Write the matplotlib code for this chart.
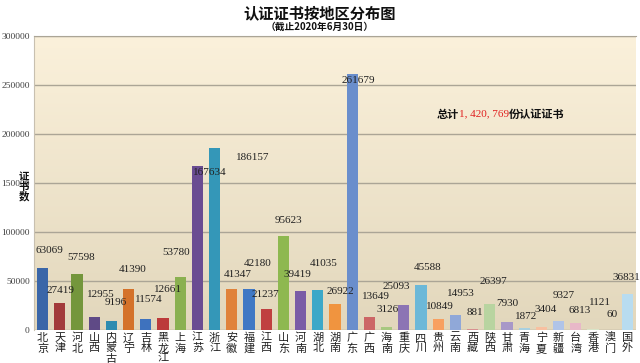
import numpy as np
import matplotlib
matplotlib.use("Agg")
import matplotlib.pyplot as plt
from matplotlib.offsetbox import TextArea, HPacker, AnnotationBbox

plt.rcParams['font.family'] = ['Noto Sans CJK SC', 'DejaVu Sans']

# data
regions = ["北京", "天津", "河北", "山西", "内蒙古", "辽宁", "吉林", "黑龙江", "上海", "江苏",
           "浙江", "安徽", "福建", "江西", "山东", "河南", "湖北", "湖南", "广东", "广西",
           "海南", "重庆", "四川", "贵州", "云南", "西藏", "陕西", "甘肃", "青海", "宁夏",
           "新疆", "台湾", "香港", "澳门", "国外"]
counts = [63069, 27419, 57598, 12955, 9196, 41390, 11574, 12661, 53780, 167634,
          186157, 41347, 42180, 21237, 95623, 39419, 41035, 26922, 261679, 13649,
          3126, 25093, 45588, 10849, 14953, 881, 26397, 7930, 1872, 3404,
          9327, 6813, 1121, 60, 36831]
yticks = [0, 50000, 100000, 150000, 200000, 250000, 300000]

bar_colors = ["#3A66A8", "#A23A3A", "#74963C", "#5F4A86", "#2E8CB0", "#D4722A",
              "#3E72BE", "#BC3A3A", "#8AB050", "#6A4C92", "#3497B8", "#E0823A",
              "#4078C4", "#C04040", "#8EB850", "#7A5CA6", "#3CA8C8", "#F0943F",
              "#6A8ECC", "#CC6666", "#A8C880", "#8C74B4", "#6CB8D8", "#F8A060",
              "#90A8D8", "#D89090", "#B8D4A0", "#A898C8", "#A8D0E0", "#F8C0A0",
              "#B0C4E8", "#E8B8C8", "#D8E4C8", "#D0C8E0", "#B8DCF0"]

# value label nudges (pixels) relative to the bar top, as placed in the original
label_dx = [7, 1, 4, 7, 4, 4, 3, 5, -4, 12, 38, 6, 9, -1, 5, -3, 6, 5, 6, 7,
            1, -7, 7, 2, 5, 2, 4, 0, 2, 4, 5, 4, 7, 2, -1]
label_dy = [18, 13, 16, 23, 18, 20, 19, 28, 25, -7, -10, 15, 25, 15, 16, 17, 26, 12, -7, 20,
            17, 19, 18, 13, 22, 17, 23, 19, 12, 17, 25, 13, 26, 15, 16]

fig = plt.figure(figsize=(6.4, 3.63), dpi=100)
fig.patch.set_facecolor("white")
ax = fig.add_axes([34 / 640, 1 - 330 / 363, 602 / 640, 294 / 363])

# beige gradient background of the plot area
top = np.array([251, 241, 219]) / 255
bot = np.array([226, 215, 188]) / 255
t = np.linspace(0, 1, 256)[:, None]
grad = (top * (1 - t) + bot * t)[:, None, :]
ax.imshow(grad, extent=[0, 1, 0, 1], transform=ax.transAxes, aspect="auto", zorder=0)

x = np.arange(len(regions))
ax.bar(x, counts, width=0.64, color=bar_colors, zorder=3)

for i, v in enumerate(counts):
    ax.annotate(str(v), (x[i], v), xytext=(label_dx[i], label_dy[i]),
                textcoords="offset pixels", ha="center", va="center",
                fontsize=8, family="Liberation Serif", color="#202020", zorder=4)

ax.set_xlim(-0.5, len(regions) - 0.5)
ax.set_ylim(0, 300000)
ax.set_yticks(yticks)
ax.set_yticklabels([str(v) for v in yticks], family="Liberation Serif", fontsize=6.8, color="#404040")
ax.set_xticks(x)
ax.set_xticklabels(["\n".join(r) for r in regions], fontsize=8, color="#202020",
                   va="top", linespacing=1.05)
ax.tick_params(axis="both", length=0, pad=3)
ax.tick_params(axis="x", pad=2)

ax.grid(axis="y", color="#ABA596", linewidth=1, zorder=1)
ax.set_axisbelow(True)
for side in ["right", "bottom"]:
    ax.spines[side].set_visible(False)
ax.spines["top"].set_color("#ABA596")
ax.spines["left"].set_color("#C8C0B0")

fig.text(0.5, 1 - 13 / 363, "认证证书按地区分布图", ha="center", va="center",
         fontsize=11, fontweight="bold", color="#101010")
fig.text(0.5, 1 - 27 / 363, "（截止2020年6月30日）", ha="center", va="center",
         fontsize=7, fontweight="bold", color="#101010")
fig.text(23.5 / 640, 1 - 187 / 363, "证\n书\n数", ha="center", va="center",
         fontsize=7.5, fontweight="bold", linespacing=0.95, color="#101010")

parts = [TextArea("总计", textprops=dict(fontsize=8, fontweight="bold", color="#101010")),
         TextArea("1, 420, 769", textprops=dict(fontsize=8, family="Liberation Serif", color="#E02020")),
         TextArea("份认证证书", textprops=dict(fontsize=8, fontweight="bold", color="#101010"))]
box = HPacker(children=parts, align="center", pad=0, sep=0)
ab = AnnotationBbox(box, (437 / 640, 1 - 114 / 363), xycoords="figure fraction",
                    box_alignment=(0, 0.5), frameon=False, zorder=5)
fig.add_artist(ab)

fig.savefig("out.png", dpi=100)
